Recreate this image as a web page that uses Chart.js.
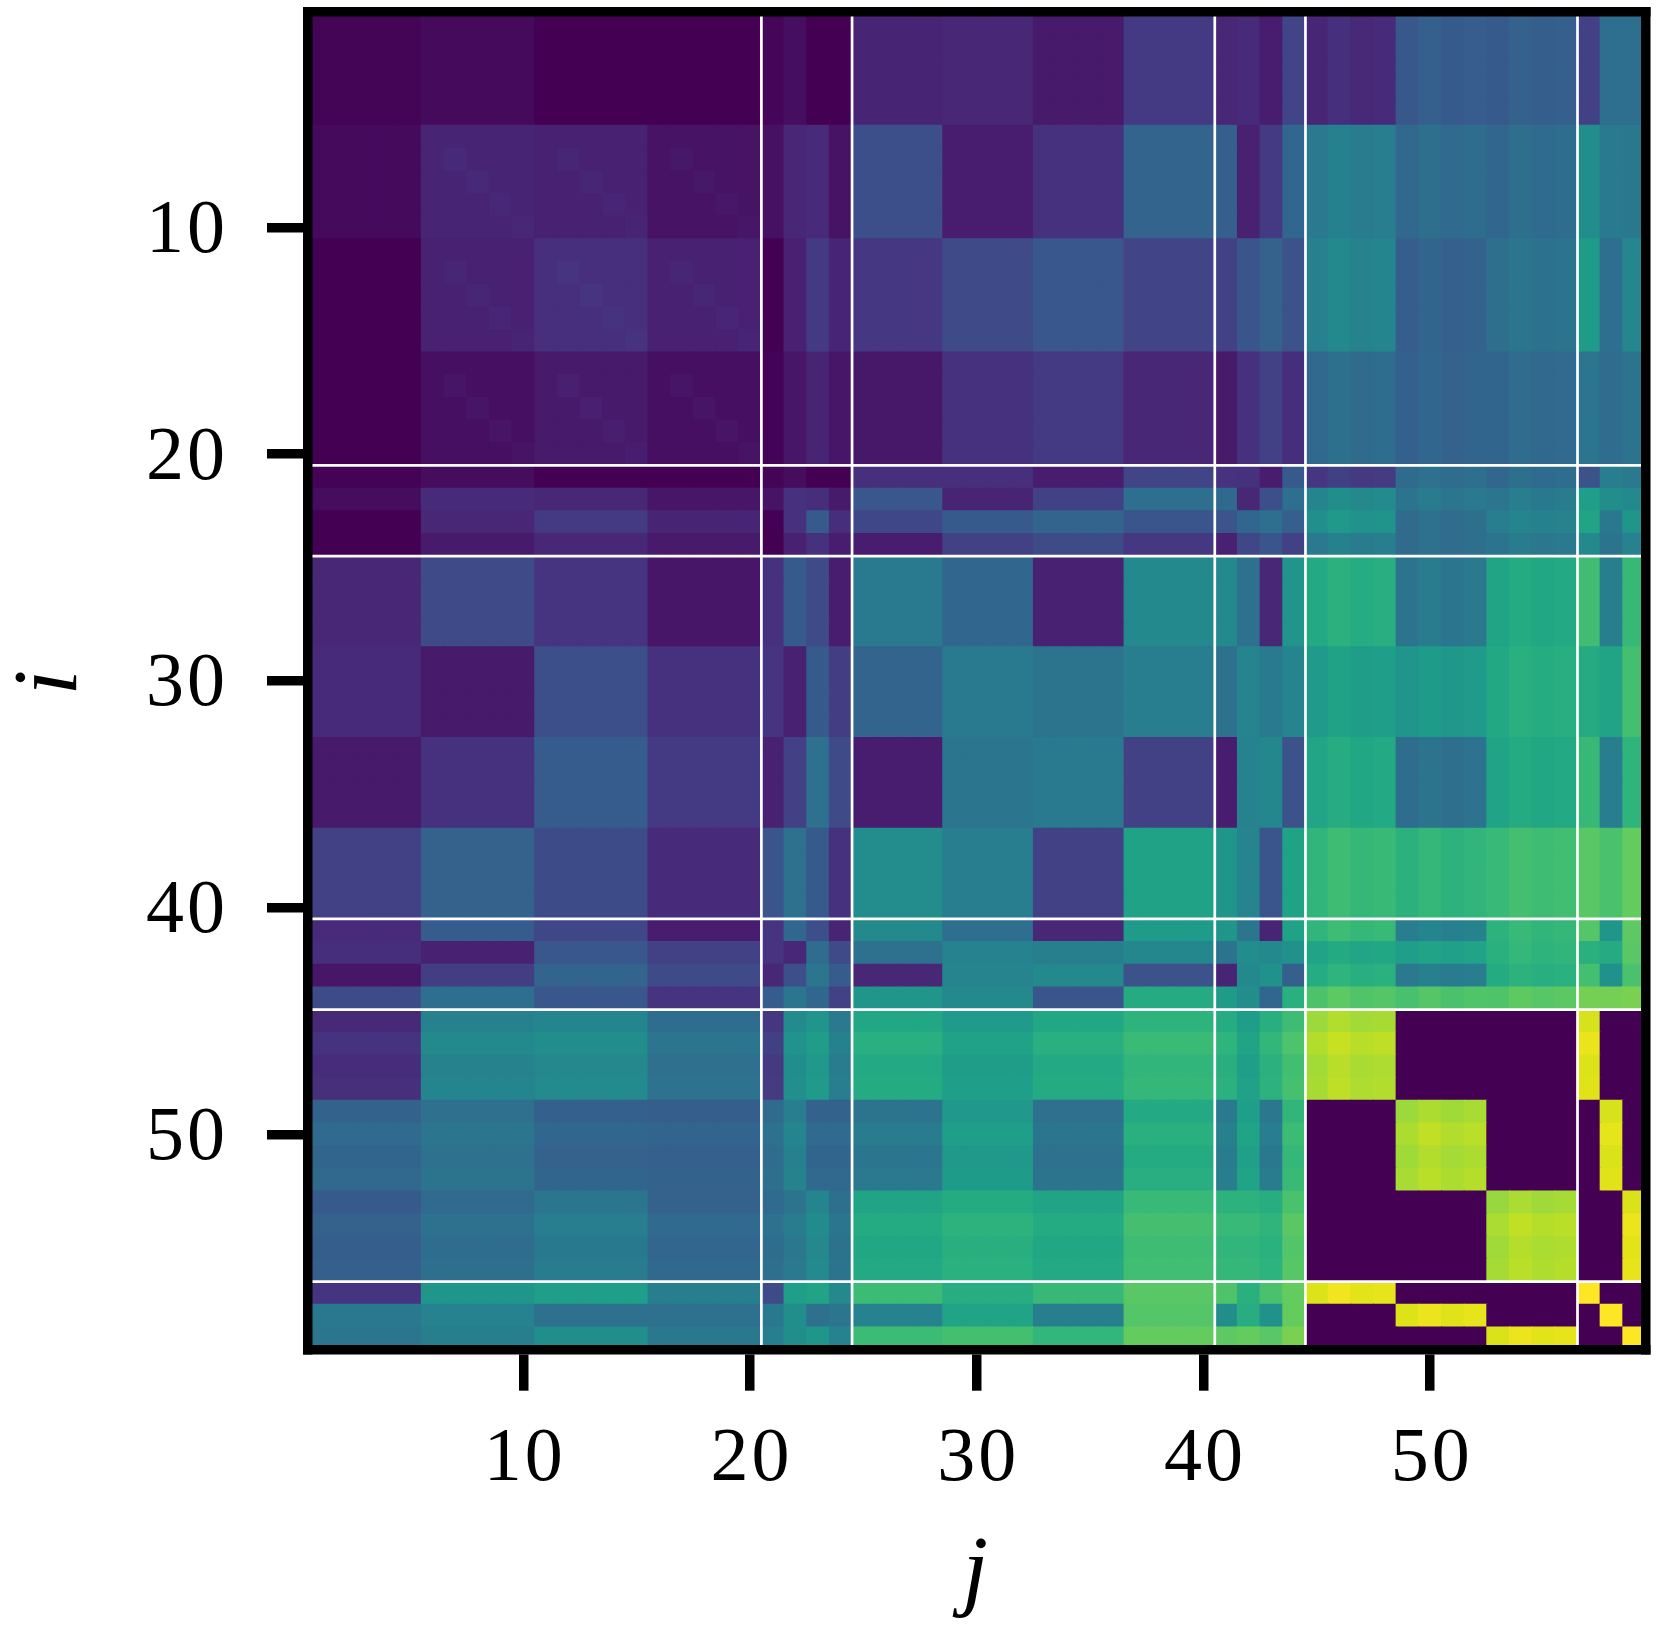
<!DOCTYPE html>
<html>
<head>
<meta charset="utf-8">
<style>html,body{margin:0;padding:0;background:#fff}canvas{display:block}</style>
<script src="https://cdn.jsdelivr.net/npm/chart.js@4"></script>
</head>
<body>
<canvas id="c" width="1658" height="1635"></canvas>
<script>
const tickValues = [10, 20, 30, 40, 50];
const separators = [20.5, 24.5, 40.5, 44.5, 56.5];
const bandSizes = [5,5,5,5,1,1,1,1,4,4,4,4,1,1,1,1,4,4,4,1,1,1];

// value per column band, one array per row band (0..1 on the viridis scale)
const rows01to05 = [.01,.025,0,0,.015,.035,0,0,.10,.11,.07,.17,.11,.12,.08,.20,.12,.29,.30,.19,.36,.36];
const rows06to10 = [.025,.10,.09,.05,.045,.11,.12,.05,.24,.08,.14,.32,.30,.09,.17,.33,.42,.35,.35,.49,.41,.40];
const rows11to15 = [0,.09,.135,.09,0,.09,.17,.10,.16,.22,.27,.20,.19,.26,.31,.25,.45,.31,.38,.54,.36,.46];
const rows16to20 = [0,.04,.07,.04,.005,.06,.10,.06,.065,.14,.17,.11,.07,.14,.19,.13,.35,.32,.34,.39,.35,.38];
const row21 = [.005,.03,0,0,.01,.03,0,0,.135,.135,.08,.20,.145,.14,.08,.28,.17,.36,.35,.25,.42,.41];
const row22 = [.03,.12,.11,.06,.05,.14,.13,.07,.27,.10,.19,.36,.34,.11,.24,.36,.47,.40,.41,.55,.49,.47];
const row23 = [0,.11,.17,.10,0,.14,.28,.13,.21,.28,.32,.26,.26,.33,.36,.30,.51,.36,.44,.58,.40,.52];
const row24 = [0,.07,.11,.07,0,.09,.14,.08,.08,.19,.23,.16,.09,.21,.26,.19,.42,.36,.40,.47,.38,.44];
const rows25to28 = [.11,.22,.15,.06,.14,.28,.22,.08,.41,.33,.09,.47,.47,.37,.11,.51,.62,.40,.60,.69,.43,.67];
const rows29to32 = [.12,.07,.24,.14,.15,.09,.28,.18,.32,.41,.38,.42,.37,.45,.41,.45,.55,.53,.62,.61,.58,.70];
const rows33to36 = [.07,.14,.29,.17,.09,.19,.37,.22,.08,.39,.41,.19,.08,.44,.46,.25,.60,.37,.60,.67,.42,.65];
const rows37to40 = [.19,.31,.23,.12,.26,.37,.28,.14,.48,.42,.19,.57,.52,.45,.26,.57,.67,.65,.69,.74,.71,.76];
const row41 = [.12,.29,.21,.08,.15,.33,.24,.10,.47,.36,.11,.54,.52,.39,.10,.57,.67,.44,.66,.73,.52,.75];
const row42 = [.13,.09,.27,.19,.15,.11,.35,.22,.37,.44,.43,.46,.38,.48,.47,.50,.59,.57,.65,.63,.61,.74];
const row43 = [.06,.18,.32,.22,.11,.24,.39,.29,.11,.45,.47,.25,.10,.47,.50,.30,.63,.42,.63,.70,.50,.71];
const row44 = [.23,.36,.27,.15,.29,.39,.33,.19,.52,.47,.26,.61,.54,.49,.33,.63,.73,.72,.74,.79,.79,.80];
const rows45to48 = [.13,.45,.47,.37,.17,.49,.53,.42,.61,.55,.61,.66,.63,.56,.64,.70,.88,0,0,.95,0,0];
const rows49to52 = [.33,.38,.32,.31,.36,.44,.33,.33,.40,.54,.38,.62,.42,.57,.41,.67,0,.88,0,0,.95,0];
const rows53to56 = [.30,.36,.41,.33,.36,.40,.47,.38,.60,.63,.60,.69,.66,.66,.64,.73,0,0,.88,0,0,.96];
const row57 = [.15,.52,.55,.43,.23,.55,.58,.47,.68,.62,.67,.74,.72,.63,.71,.76,.96,0,0,1,0,0];
const row58 = [.40,.44,.37,.37,.40,.49,.37,.39,.44,.58,.43,.73,.49,.62,.50,.76,0,.96,0,0,1,0];
const row59 = [.39,.43,.49,.40,.42,.49,.52,.44,.68,.70,.66,.76,.75,.76,.74,.80,0,0,.96,0,0,1];

const rowBands = [rows01to05,rows06to10,rows11to15,rows16to20,row21,row22,row23,row24,
  rows25to28,rows29to32,rows33to36,rows37to40,row41,row42,row43,row44,
  rows45to48,rows49to52,rows53to56,row57,row58,row59];

// small within-band differences, for rows and columns 45..56
const fineOffsets45to56 = [-.015,.018,-.005,.003, -.015,.012,-.008,.004, -.018,.012,-.004,.004];
// slightly brighter diagonal inside the blocks of rows/columns 6..20
const blockDiagonal = [0,.016,.016,.013,.01];

const viridisStops = ['#440154','#471365','#482475','#463480','#414487','#3b528b','#355f8d','#2f6c8e','#2a788e','#25848e','#21918c','#1f9e89','#22a884','#2fb47c','#44bf70','#5ec962','#7ad151','#9bd93c','#bddf26','#dfe318','#fde725'];

function rgb(h){return [1,3,5].map(k=>parseInt(h.substr(k,2),16));}
function viridis(t){
  t=Math.min(1,Math.max(0,t));
  const p=t*(viridisStops.length-1),k=Math.min(viridisStops.length-2,Math.floor(p)),f=p-k;
  const a=rgb(viridisStops[k]),b=rgb(viridisStops[k+1]);
  return 'rgb('+a.map((v,n)=>Math.round(v+(b[n]-v)*f)).join(',')+')';
}
function bandOf(n){let s=0;for(let b=0;b<bandSizes.length;b++){s+=bandSizes[b];if(n<=s)return b;}return bandSizes.length-1;}
function fine(n){return n>=45&&n<=56?fineOffsets45to56[n-45]:0;}
function cell(i,j){
  const base=rowBands[bandOf(i)][bandOf(j)];
  if(base===0)return 0;
  let v=base+fine(i)+fine(j);
  if(i>=6&&i<=20&&j>=6&&j<=20&&(i-1)%5===(j-1)%5)v+=blockDiagonal[(i-1)%5];
  return v;
}

const datasets=[];
separators.forEach(s=>{
  datasets.push({type:'line',order:-1,data:[{x:s,y:.5},{x:s,y:59.5}],borderColor:'#fff',borderWidth:2.7,pointRadius:0,xAxisID:'x',yAxisID:'y'});
  datasets.push({type:'line',order:-1,data:[{x:.5,y:s},{x:59.5,y:s}],borderColor:'#fff',borderWidth:2.7,pointRadius:0,xAxisID:'x',yAxisID:'y'});
});
for(let i=59;i>=1;i--){
  const data=[],colors=[];
  for(let j=1;j<=59;j++){data.push({x:j,y:[i-.5,i+.5]});colors.push(viridis(cell(i,j)));}
  datasets.push({type:'bar',data,backgroundColor:colors,borderWidth:0,inflateAmount:.5,grouped:false,barPercentage:1,categoryPercentage:1,xAxisID:'x',yAxisID:'y'});
}

const LABEL_FONT={family:'"Liberation Serif"',size:76};
const SW=9.5;
const mainGrid={drawOnChartArea:false,drawTicks:true,tickLength:41,tickWidth:SW,tickColor:'#000',lineWidth:SW,color:'#000',offset:false};
const plainGrid={drawOnChartArea:false,drawTicks:false,lineWidth:SW,color:'#000',offset:false};
const border={display:true,color:'#000',width:SW,z:1};
const setTicks=s=>{s.ticks=tickValues.map(value=>({value}));};
const noPad=s=>{s.paddingLeft=0;s.paddingRight=0;s.paddingTop=0;s.paddingBottom=0;};
const widerDigits={id:'widerDigits',beforeDraw(chart){chart.ctx.letterSpacing='3px';}};

new Chart(document.getElementById('c'),{
  data:{datasets},
  plugins:[widerDigits],
  options:{
    responsive:false,animation:false,events:[],
    layout:{padding:0},
    plugins:{legend:{display:false},tooltip:{enabled:false}},
    scales:{
      x:{type:'linear',position:'bottom',offset:false,min:.5,max:59.5,grid:mainGrid,border,
        afterBuildTicks:setTicks,afterFit:s=>{s.height=285.3;noPad(s);},
        ticks:{color:'#000',font:LABEL_FONT,padding:23.3,labelOffset:1.5,maxRotation:0,autoSkip:false,callback:v=>String(v)},
        title:{display:true,text:'j',color:'#000',font:{family:'"Liberation Serif"',style:'italic',size:92},padding:{top:0,bottom:5}}},
      y:{type:'linear',position:'left',offset:false,reverse:true,min:.5,max:59.5,grid:mainGrid,border,
        afterBuildTicks:setTicks,afterFit:s=>{s.width=308;noPad(s);},
        ticks:{color:'#000',font:LABEL_FONT,padding:39,labelOffset:4.5,autoSkip:false,callback:v=>String(v)},
        title:{display:true,text:'i',color:'#000',font:{family:'"Liberation Serif"',style:'italic',size:92},padding:{top:-3,bottom:0}}},
      x2:{type:'linear',position:'top',offset:false,min:.5,max:59.5,grid:plainGrid,border,ticks:{display:false},afterFit:s=>{s.height=12;noPad(s);}},
      y2:{type:'linear',position:'right',offset:false,min:.5,max:59.5,grid:plainGrid,border,ticks:{display:false},afterFit:s=>{s.width=12.5;noPad(s);}}
    }
  }
});
</script>
</body>
</html>
